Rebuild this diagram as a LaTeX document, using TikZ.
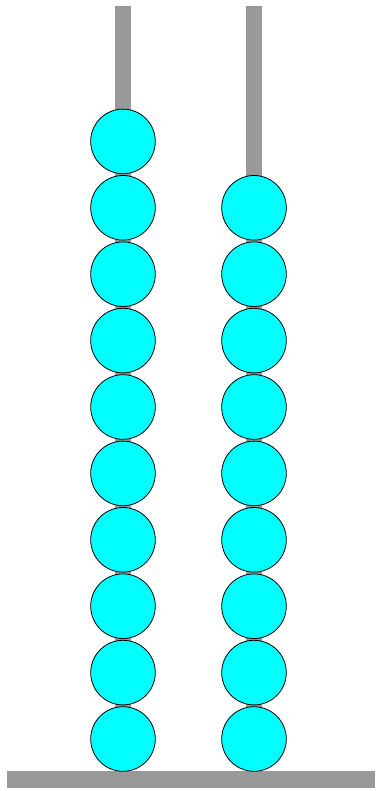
\documentclass[tikz,border=0pt]{standalone}
\usetikzlibrary{positioning}

\definecolor{rodgray}{RGB}{153,153,153}
\definecolor{beadcyan}{RGB}{0,255,255}

\begin{document}
\begin{tikzpicture}[
  x=1pt, y=-1pt,
  bead/.style={circle, draw, line width=0.8pt, fill=beadcyan, minimum size=64.6pt, inner sep=0pt},
  rod/.style={fill=rodgray, draw=none}
]
\useasboundingbox (0,0) rectangle (375,791);
% base and rods
\fill[rod] (6.5,771) rectangle (375,787.5);
\fill[rod] (115,6) rectangle (131,771);
\fill[rod] (246,6) rectangle (262,771);
% left column, ten beads
\foreach \i in {0,...,9}
  \node[bead] (l\i) at (123,{739-66.4*\i}) {};
% right column, nine beads
\foreach \i in {0,...,8}
  \node[bead] (r\i) at (254,{739-66.4*\i}) {};
\end{tikzpicture}
\end{document}
